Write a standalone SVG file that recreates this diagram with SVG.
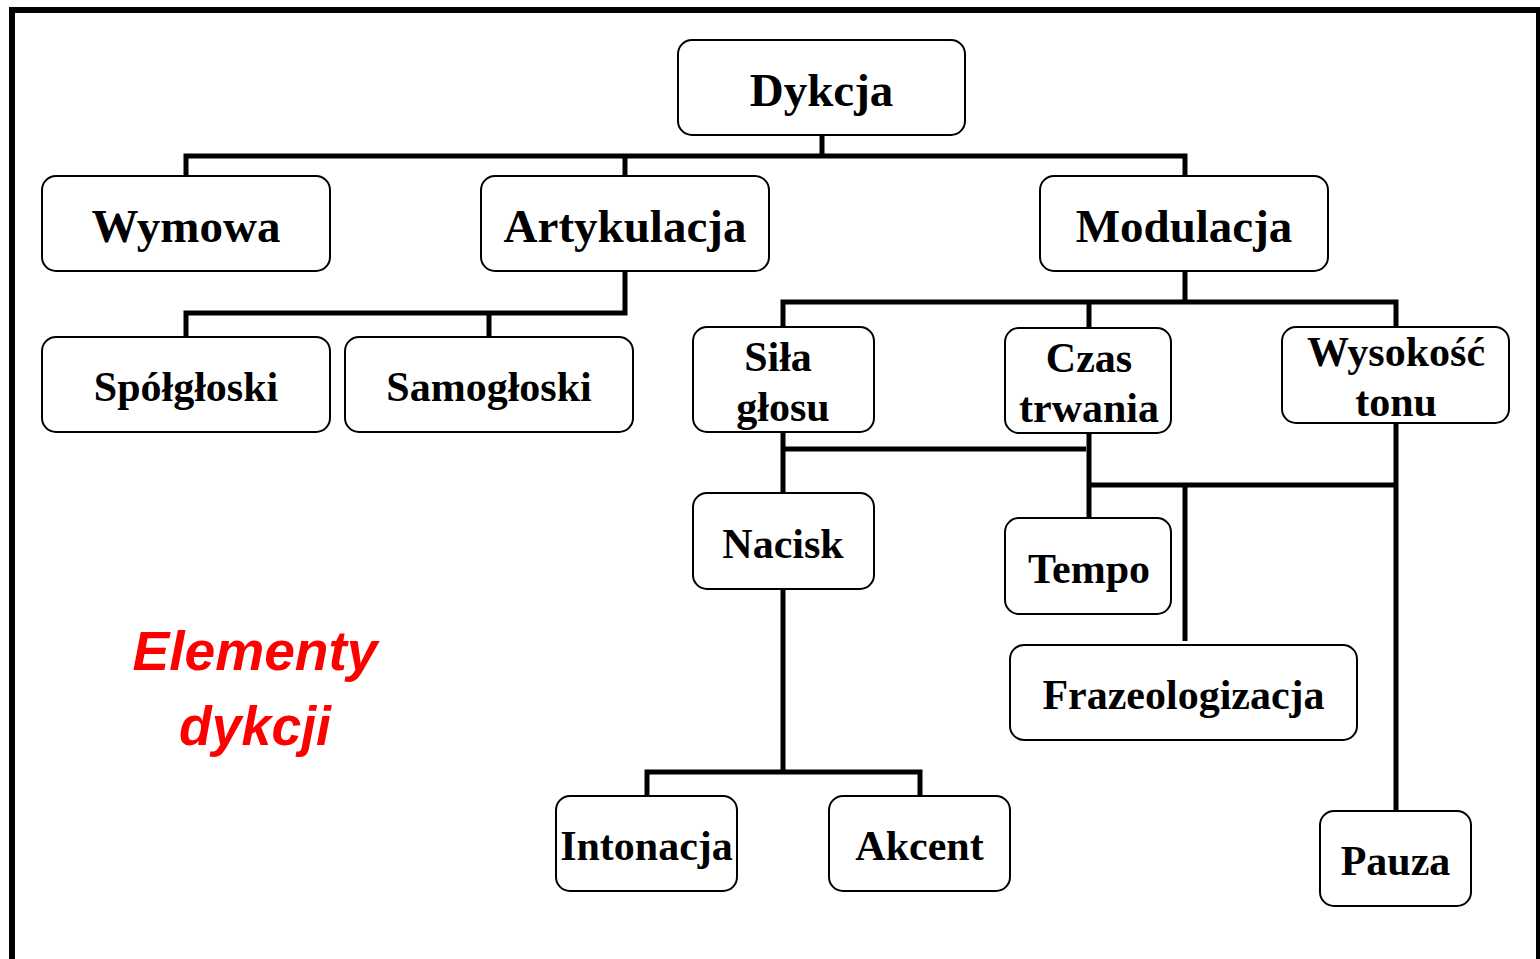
<svg xmlns="http://www.w3.org/2000/svg" width="1540" height="959" viewBox="0 0 1540 959">
<style>
.box{fill:#fff;stroke:#000;stroke-width:2}
.t1{font-family:"Liberation Serif","Times New Roman",serif;font-weight:bold;font-size:47px;text-anchor:middle;fill:#000}
.t2{font-family:"Liberation Serif","Times New Roman",serif;font-weight:bold;font-size:42px;text-anchor:middle;fill:#000}
.conn{fill:none;stroke:#000;stroke-width:5;stroke-linecap:butt;stroke-linejoin:miter}
.red{font-family:"Liberation Sans",Arial,sans-serif;font-weight:bold;font-style:italic;font-size:56px;text-anchor:middle;fill:#ff0000}
</style>
<rect x="0" y="0" width="1540" height="959" fill="#fff"/>
<rect x="12" y="10" width="1527" height="1000" fill="none" stroke="#000" stroke-width="6"/>
<g id="connectors">
<path class="conn" d="M822 135V156M186 176V156H1185V176M625 156V176"/>
<path class="conn" d="M625 271V313H186V337M489 313V337"/>
<path class="conn" d="M1185 271V302M783 327V302H1396V327M1089 302V328"/>
<path class="conn" d="M783 432V493M783 449H1086"/>
<path class="conn" d="M1089 433V518M1089 485H1396M1185 485V641M1396 423V811"/>
<path class="conn" d="M783 589V772M647 796V772H920V796"/>
</g>
<g id="n-dykcja"><rect class="box" x="678" y="40" width="287" height="95" rx="14"/><text class="t1" x="821.5" y="106">Dykcja</text></g>
<g id="n-wymowa"><rect class="box" x="42" y="176" width="288" height="95" rx="14"/><text class="t1" x="186" y="242">Wymowa</text></g>
<g id="n-artykulacja"><rect class="box" x="481" y="176" width="288" height="95" rx="14"/><text class="t1" x="625" y="242">Artykulacja</text></g>
<g id="n-modulacja"><rect class="box" x="1040" y="176" width="288" height="95" rx="14"/><text class="t1" x="1184" y="242">Modulacja</text></g>
<g id="n-spolgloski"><rect class="box" x="42" y="337" width="288" height="95" rx="14"/><text class="t2" x="186" y="401">Spółgłoski</text></g>
<g id="n-samogloski"><rect class="box" x="345" y="337" width="288" height="95" rx="14"/><text class="t2" x="489" y="401">Samogłoski</text></g>
<g id="n-sila"><rect class="box" x="693" y="327" width="181" height="105" rx="14"/><text class="t2" x="778" y="371">Siła</text><text class="t2" x="783" y="421">głosu</text></g>
<g id="n-czas"><rect class="box" x="1005" y="328" width="166" height="105" rx="14"/><text class="t2" x="1089" y="372">Czas</text><text class="t2" x="1089" y="422">trwania</text></g>
<g id="n-wysokosc"><rect class="box" x="1282" y="327" width="227" height="96" rx="14"/><text class="t2" x="1396" y="366">Wysokość</text><text class="t2" x="1396" y="416">tonu</text></g>
<g id="n-nacisk"><rect class="box" x="693" y="493" width="181" height="96" rx="14"/><text class="t2" x="783" y="558">Nacisk</text></g>
<g id="n-tempo"><rect class="box" x="1005" y="518" width="166" height="96" rx="14"/><text class="t2" x="1089" y="583">Tempo</text></g>
<g id="n-frazeologizacja"><rect class="box" x="1010" y="645" width="347" height="95" rx="14"/><text class="t2" x="1183.5" y="709">Frazeologizacja</text></g>
<g id="n-intonacja"><rect class="box" x="556" y="796" width="181" height="95" rx="14"/><text class="t2" x="646.5" y="860">Intonacja</text></g>
<g id="n-akcent"><rect class="box" x="829" y="796" width="181" height="95" rx="14"/><text class="t2" x="919.5" y="860">Akcent</text></g>
<g id="n-pauza"><rect class="box" x="1320" y="811" width="151" height="95" rx="14"/><text class="t2" x="1395.5" y="875">Pauza</text></g>
<g id="title"><text class="red" x="255" y="670" textLength="245" lengthAdjust="spacingAndGlyphs">Elementy</text><text class="red" x="255" y="745" textLength="152" lengthAdjust="spacingAndGlyphs">dykcji</text></g>
</svg>
